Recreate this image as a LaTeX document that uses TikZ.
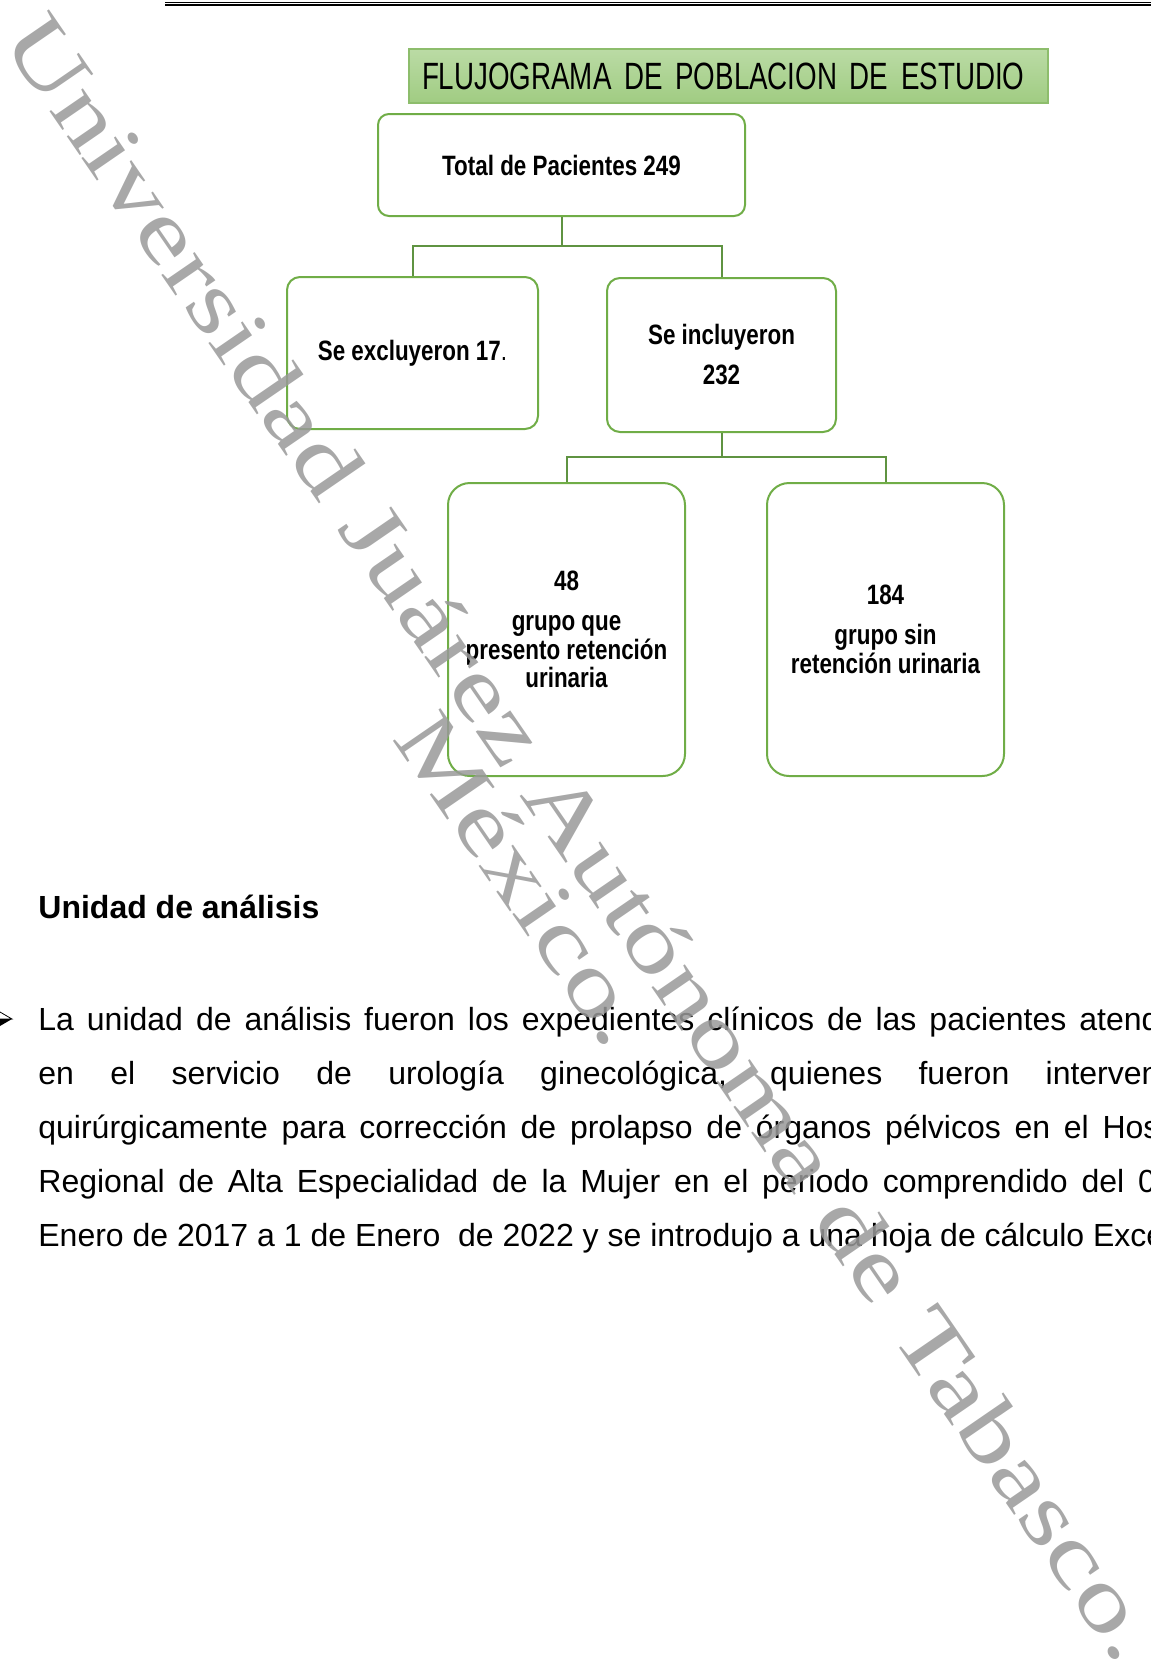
\documentclass[tikz,border=0pt]{standalone}
\usepackage{fontspec}
\setmainfont{Liberation Sans}
\newfontfamily\narrowfont[FakeStretch=0.8]{Liberation Sans}
\newfontfamily\titlefont[FakeStretch=0.73]{Liberation Sans}
\newfontfamily\markfont[FakeStretch=1.31]{Liberation Serif}
\usepackage{xcolor}
\usepackage{tikz}
\usetikzlibrary{calc}
\definecolor{cBox}{HTML}{70AD47}
\definecolor{cLink}{HTML}{5F9341}
\definecolor{cTitleTop}{HTML}{BBDBA5}
\definecolor{cTitleBot}{HTML}{A0CC82}
\definecolor{cMark}{gray}{0.6}
\tikzset{
  pbox/.style={draw=cBox, line width=1pt, fill=white, inner sep=2pt, align=center,
               font=\narrowfont\bfseries\fontsize{14pt}{14.3pt}\selectfont},
  titlebox/.style={draw=cBox!80, line width=0.8pt, top color=cTitleTop, bottom color=cTitleBot,
               minimum width=319.5pt, minimum height=27pt, inner xsep=6.5pt, inner ysep=0pt,
               text width=306.5pt, align=left, font=\titlefont\fontsize{19pt}{19pt}\selectfont},
  link/.style={draw=cLink, line width=1pt},
  bodytxt/.style={anchor=base west, inner sep=0pt, font=\fontsize{16pt}{16pt}\selectfont},
  wmark/.style={font=\markfont\fontsize{44pt}{36.5pt}\selectfont, text=cMark,
               text opacity=0.85, align=center, rotate=-55.5, inner sep=0pt}
}
\begin{document}
\begin{tikzpicture}[x=0.5pt, y=-0.5pt]
\useasboundingbox (0,0) rectangle (1151,1660);
% header rule (double line)
\draw[line width=0.5pt] (165,2.2) -- (1151,2.2);
\draw[line width=1.1pt] (165,5) -- (1151,5);
% flowchart boxes
\node[titlebox] (title) at (728.5,76) {FLUJOGRAMA DE POBLACION DE ESTUDIO};
\node[pbox, rounded corners=5.5pt, minimum width=183.5pt, minimum height=51pt] (total) at (561.5,165) {Total de Pacientes 249};
\node[pbox, rounded corners=6.5pt, minimum width=125.5pt, minimum height=76pt] (excl) at (412.5,353) {Se excluyeron 17{\mdseries .}};
\node[pbox, rounded corners=6.5pt, minimum width=114.5pt, minimum height=77pt] (incl) at (721.5,355) {Se incluyeron\\[5.7pt]232};
\node[pbox, rounded corners=11pt, minimum width=118.5pt, minimum height=146.5pt] (ret) at (566.5,629.5) {48\\[5.7pt]grupo que\\presento retención\\urinaria};
\node[pbox, rounded corners=11pt, minimum width=118.5pt, minimum height=146.5pt] (noret) at (885.5,629.5) {184\\[5.7pt]grupo sin\\retención urinaria};
% elbow connectors
\coordinate (split1) at (561.5,246);
\coordinate (split2) at (721.5,457);
\draw[link] (total.south) -- (split1) -| (excl.north);
\draw[link] (split1) -| (incl.north);
\draw[link] (incl.south) -- (split2) -| (ret.north);
\draw[link] (split2) -| (noret.north);
% text below the chart
\node[bodytxt, font=\bfseries\fontsize{16pt}{16pt}\selectfont] (unidad) at (38,918.3) {Unidad de análisis};
\coordinate (tip) at (12,1019);
\fill (tip) -- ++(-18,10.5) -- ++(5,-10.5) -- cycle;
\draw[line width=0.4pt, line join=miter] (tip) -- ++(-18,-10.5) -- ++(5,10.5) -- cycle;
\node[bodytxt] (l1) at (38,1030) {\makebox[590pt][s]{La unidad de análisis fueron los expedientes clínicos de las pacientes atend\phantom{idas}}};
\node[bodytxt] (l2) at (38,1084.2) {\makebox[590pt][s]{en el servicio de urología ginecológica, quienes fueron interven\phantom{idas}}};
\node[bodytxt] (l3) at (38,1138.4) {\makebox[590pt][s]{quirúrgicamente para corrección de prolapso de órganos pélvicos en el Hos\phantom{pital}}};
\node[bodytxt] (l4) at (38,1192.6) {\makebox[590pt][s]{Regional de Alta Especialidad de la Mujer en el periodo comprendido del 0\phantom{1 de}}};
\node[bodytxt] (l5) at (38,1246.8) {Enero de 2017 a 1 de Enero\ \ de 2022 y se introdujo a una hoja de cálculo Exce};
% watermark
\node[wmark] (wm) at (554.4,857.7) {Universidad Juárez Autónoma de Tabasco.\\México.};
\end{tikzpicture}
\end{document}
